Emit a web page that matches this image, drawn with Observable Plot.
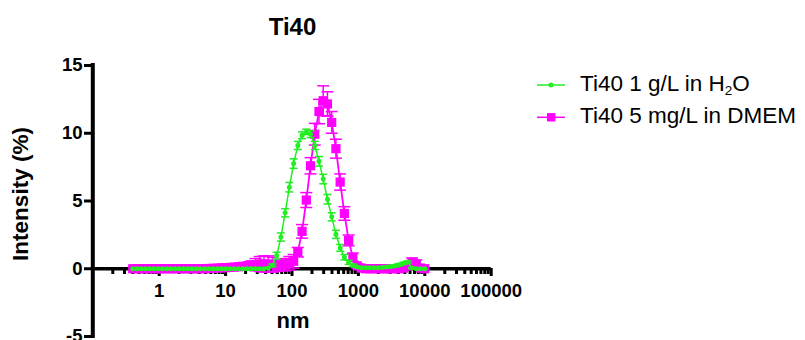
<!DOCTYPE html>
<html>
<head>
<meta charset="utf-8">
<script src="https://cdn.jsdelivr.net/npm/d3@7"></script>
<script src="https://cdn.jsdelivr.net/npm/@observablehq/plot@0.6"></script>
<style>
  body { margin: 0; background: #fff; }
  #wrap { position: relative; width: 805px; height: 340px; overflow: hidden; font-family: "Liberation Sans", Arial, sans-serif; color: #000; }
  #wrap > svg { position: absolute; left: 0; top: 0; }
  .lbl { position: absolute; font-weight: bold; line-height: 1; white-space: nowrap; transform: translate(-50%, -50%); }
  .legtext { position: absolute; line-height: 1; white-space: nowrap; font-size: 22.5px; }
  .legtext sub { font-size: 0.6em; vertical-align: -0.3em; line-height: 0; }
  .sw { position: absolute; left: 0; top: 0; }
</style>
</head>
<body>
<div id="wrap"></div>
<script>
// Size bins (nm)
const sizes = [0.4, 0.4632, 0.5365, 0.6213, 0.7195, 0.8332, 0.9649, 1.117, 1.294, 1.499, 1.736, 2.01, 2.328, 2.696, 3.122, 3.615, 4.187, 4.849, 5.615, 6.503, 7.531, 8.721, 10.1, 11.7, 13.54, 15.69, 18.17, 21.04, 24.36, 28.21, 32.67, 37.84, 43.82, 50.75, 58.77, 68.06, 78.82, 91.28, 105.7, 122.4, 141.8, 164.2, 190.1, 220.2, 255, 295.3, 342, 396.1, 458.7, 531.2, 615.1, 712.4, 825, 955.4, 1106, 1281, 1484, 1718, 1990, 2305, 2669, 3091, 3580, 4145, 4801, 5560, 6439, 7456, 8635, 10000];

// Ti40 1 g/L in H2O
const h2oMean = [0,0,0,0,0,0,0,0,0,0, 0,0,0,0,0,0,0,0,0,0, 0,0,0,0,0,0,0,0,0,0, 0,0,0.05,0.25,0.97,2.34,4.13,6.02,7.76,9.1, 9.85,10.1,9.93,9.1,7.93,6.62,5.13,3.83,2.54,1.54, 0.85,0.47,0.25,0.12,0.08,0.07,0.07,0.07,0.08,0.1, 0.13,0.17,0.22,0.3,0.4,0.5,0.05,0,0,0];
const h2oErr = [0,0,0,0,0,0,0,0,0,0, 0,0,0,0,0,0,0,0,0,0, 0,0,0,0,0,0,0,0,0,0, 0,0,0,0.1,0.25,0.3,0.3,0.35,0.35,0.3, 0.25,0.2,0.25,0.3,0.35,0.35,0.35,0.3,0.3,0.25, 0.2,0.15,0.1,0.05,0.05,0.05,0.05,0.05,0.05,0.05, 0.08,0.08,0.08,0.08,0.08,0.08,0.05,0,0,0];

// Ti40 5 mg/L in DMEM
const dmemMean = [0,0,0,0,0,0,0,0,0,0, 0,0,0,0,0,0,0,0,0.02,0.03, 0.05,0.07,0.08,0.1,0.12,0.15,0.18,0.22,0.27,0.3, 0.35,0.35,0.35,0.3,0.22,0.25,0.3,0.4,0.55,1.22, 2.76,5.07,7.6,9.93,11.6,12.4,12.16,10.8,8.86,6.4, 4.08,2.09,0.85,0.22,0.05,0,0,0,0,0, 0,0,0,0,0.05,0.2,0.45,0.35,0.05,0];
const dmemErr = [0,0,0,0,0,0,0,0,0,0, 0,0,0,0,0,0,0,0,0.05,0.05, 0.05,0.05,0.05,0.1,0.1,0.1,0.1,0.2,0.3,0.45, 0.55,0.6,0.6,0.55,0.4,0.4,0.45,0.5,0.5,0.35, 0.5,0.55,0.6,0.8,0.9,1.1,0.9,0.8,0.7,0.6, 0.5,0.4,0.3,0.15,0.05,0,0,0,0,0, 0,0,0,0,0.05,0.25,0.35,0.3,0.05,0];

const seriesNames = ["Ti40 1 g/L in H<sub>2</sub>O", "Ti40 5 mg/L in DMEM"];
const xTicks = [1, 10, 100, 1000, 10000, 100000];
const yTicks = [-5, 0, 5, 10, 15];
const xDomain = [0.1, 100000];
const yDomain = [-5, 15];
const titleText = "Ti40";
const xLabel = "nm";
const yLabel = "Intensity (%)";

const green = "#22ee22";
const magenta = "#ff00ff";

const h2o = sizes.map((s, i) => ({s, v: h2oMean[i], e: h2oErr[i]}));
const dmem = sizes.map((s, i) => ({s, v: dmemMean[i], e: dmemErr[i]}));

const minorTicks = [];
for (const base of [0.1, 1, 10, 100, 1000, 10000]) for (let k = 2; k <= 9; k++) minorTicks.push(k * base);

const capSym = {draw(ctx, size) { const r = Math.sqrt(size / Math.PI); ctx.moveTo(-r, 0); ctx.lineTo(r, 0); }};

function errMarks(data, color, capR) {
  const d = data.filter(p => p.e > 0);
  return [
    Plot.ruleX(d, {x: "s", y1: p => p.v - p.e, y2: p => p.v + p.e, stroke: color, strokeWidth: 1.5}),
    Plot.dot(d, {x: "s", y: p => p.v + p.e, symbol: capSym, r: capR, stroke: color, fill: "none", strokeWidth: 1.5}),
    Plot.dot(d, {x: "s", y: p => p.v - p.e, symbol: capSym, r: capR, stroke: color, fill: "none", strokeWidth: 1.5})
  ];
}

const chart = Plot.plot({
  width: 805,
  height: 340,
  marginLeft: 92,
  marginBottom: 72,
  marginTop: 0,
  marginRight: 0,
  x: {type: "log", domain: xDomain, range: [92.3, 490.7], label: null},
  y: {domain: yDomain, range: [336, 65], label: null},
  style: {fontFamily: "'Liberation Sans', Arial, sans-serif", fontSize: "18.5px", fontWeight: "bold", background: "transparent", overflow: "visible", color: "#000"},
  marks: [
    Plot.ruleX([xDomain[0]], {y1: yDomain[0], y2: yDomain[1], stroke: "#000", strokeWidth: 4, strokeLinecap: "square"}),
    Plot.ruleY([0], {x1: xDomain[0], x2: xDomain[1], stroke: "#000", strokeWidth: 3.5}),
    Plot.axisY({ticks: yTicks, tickSize: 8, tickPadding: 2, strokeWidth: 3, fontSize: 18.5, fontWeight: "bold", label: null, tickFormat: d => String(d)}),
    Plot.axisX({ticks: xTicks, tickSize: 8, tickPadding: 7.5, strokeWidth: 3, fontSize: 18.5, fontWeight: "bold", label: null, tickFormat: d => String(d)}),
    Plot.axisX({ticks: minorTicks, tickSize: 6, tickPadding: 0, strokeWidth: 3, label: null, tickFormat: () => ""}),
    ...errMarks(dmem, magenta, 6),
    Plot.line(dmem, {x: "s", y: "v", stroke: magenta, strokeWidth: 1.8}),
    Plot.dot(dmem, {x: "s", y: "v", symbol: "square", r: 5.2, fill: magenta}),
    ...errMarks(h2o, green, 4),
    Plot.line(h2o, {x: "s", y: "v", stroke: green, strokeWidth: 1.5}),
    Plot.dot(h2o, {x: "s", y: "v", r: 2.5, fill: green})
  ]
});

const wrap = document.getElementById("wrap");
wrap.appendChild(chart);

function addLabel(text, x, y, size, rotate) {
  const el = document.createElement("div");
  el.className = "lbl";
  el.textContent = text;
  el.style.left = x + "px";
  el.style.top = y + "px";
  el.style.fontSize = size + "px";
  if (rotate) el.style.transform = "translate(-50%, -50%) rotate(-90deg)";
  wrap.appendChild(el);
}
addLabel(titleText, 292.5, 27, 24);
addLabel(xLabel, 293, 321.4, 22);
addLabel(yLabel, 21.4, 194, 22.5, true);

// Legend
const sw = d3.select(wrap).append("svg").attr("class", "sw").attr("width", 805).attr("height", 340);
const rows = [{y: 85, color: green, shape: "circle", name: seriesNames[0], top: 72.6},
              {y: 117.3, color: magenta, shape: "square", name: seriesNames[1], top: 105}];
for (const r of rows) {
  sw.append("line").attr("x1", 537).attr("x2", 565).attr("y1", r.y).attr("y2", r.y).attr("stroke", r.color).attr("stroke-width", 1.5);
  if (r.shape === "circle") sw.append("circle").attr("cx", 551).attr("cy", r.y).attr("r", 2.5).attr("fill", r.color);
  else sw.append("rect").attr("x", 547).attr("y", r.y - 4.2).attr("width", 8.4).attr("height", 8.4).attr("fill", r.color);
  const t = document.createElement("div");
  t.className = "legtext";
  t.innerHTML = r.name;
  t.style.left = "580px";
  t.style.top = r.top + "px";
  wrap.appendChild(t);
}
</script>
</body>
</html>
